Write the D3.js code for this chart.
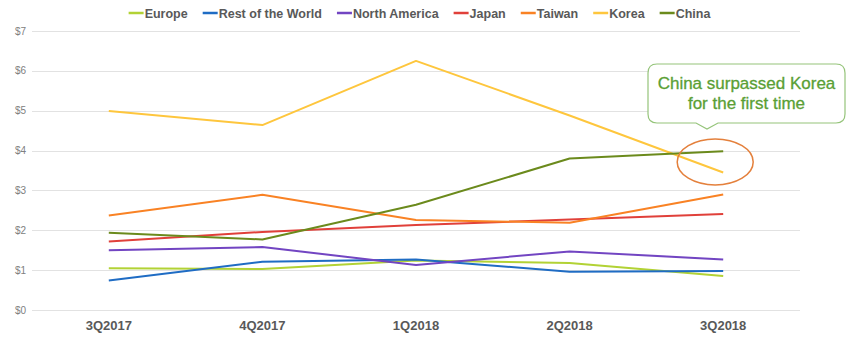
<!DOCTYPE html>
<html>
<head>
<meta charset="utf-8">
<script src="https://cdn.jsdelivr.net/npm/d3@7"></script>
<style>
  html, body { margin: 0; padding: 0; background: #fff; }
  svg { display: block; }
</style>
</head>
<body>
<svg id="chart" width="850" height="345"></svg>
<script>
// ---- Data ----
const categories = ["3Q2017", "4Q2017", "1Q2018", "2Q2018", "3Q2018"];
const seriesNames = ["Europe", "Rest of the World", "North America", "Japan", "Taiwan", "Korea", "China"];
const europe       = [1.05, 1.03, 1.24, 1.18, 0.85];
const restOfWorld  = [0.74, 1.21, 1.27, 0.96, 0.98];
const northAmerica = [1.50, 1.58, 1.13, 1.47, 1.27];
const japan        = [1.72, 1.96, 2.13, 2.27, 2.41];
const taiwan       = [2.37, 2.89, 2.26, 2.19, 2.90];
const korea        = [4.99, 4.64, 6.25, 4.88, 3.45];
const china        = [1.94, 1.77, 2.64, 3.80, 3.98];
const yTicks = [0, 1, 2, 3, 4, 5, 6, 7];
const annotationLines = ["China surpassed Korea", "for the first time"];

const seriesValues = [europe, restOfWorld, northAmerica, japan, taiwan, korea, china];
const colors = ["#b2d235", "#1f6cc4", "#7245c2", "#e0403a", "#f98224", "#fec63d", "#6b8a1c"];

// ---- Layout ----
const svg = d3.select("#chart");
const plotLeft = 32, plotRight = 800, plotTop = 31, plotBottom = 310;

const x = d3.scaleBand().domain(categories).range([plotLeft, plotRight]);
const y = d3.scaleLinear().domain([0, 7]).range([plotBottom, plotTop]);
const cx = d => x(d) + x.bandwidth() / 2;

// gridlines
svg.append("g").selectAll("line").data(yTicks).join("line")
  .attr("x1", plotLeft).attr("x2", plotRight)
  .attr("y1", d => Math.round(y(d)) + 0.5).attr("y2", d => Math.round(y(d)) + 0.5)
  .attr("stroke", "#e2e2e2").attr("stroke-width", 1);

// y labels
svg.append("g").selectAll("text").data(yTicks).join("text")
  .attr("x", 15).attr("y", d => y(d) + 3.5)
  .attr("font-family", "Liberation Sans, Arial, sans-serif")
  .attr("font-size", 10).attr("fill", "#808080")
  .text(d => "$" + d);

// x labels
svg.append("g").selectAll("text").data(categories).join("text")
  .attr("x", d => cx(d)).attr("y", 330)
  .attr("text-anchor", "middle")
  .attr("font-family", "Liberation Sans, Arial, sans-serif")
  .attr("font-weight", "bold")
  .attr("font-size", 13).attr("fill", "#595959")
  .text(d => d);

// lines
const line = d3.line().x((d, i) => cx(categories[i])).y(d => y(d));
svg.append("g").selectAll("path").data(seriesValues).join("path")
  .attr("d", d => line(d))
  .attr("fill", "none")
  .attr("stroke", (d, i) => colors[i])
  .attr("stroke-width", 2)
  .attr("stroke-linejoin", "round");

// legend
const legend = svg.append("g");
const items = legend.selectAll("g").data(seriesNames).join("g");
items.append("line")
  .attr("x1", 0).attr("x2", 15).attr("y1", 0).attr("y2", 0)
  .attr("stroke", (d, i) => colors[i]).attr("stroke-width", 2.5);
items.append("text")
  .attr("x", 16).attr("y", 4.5)
  .attr("font-family", "Liberation Sans, Arial, sans-serif")
  .attr("font-weight", "bold")
  .attr("font-size", 12.5).attr("fill", "#595959")
  .text(d => d);
let pos = 0;
const offsets = [];
items.each(function(d, i) {
  const w = 16 + this.querySelector("text").getComputedTextLength();
  offsets.push(pos);
  pos += w + 15;
});
const totalW = pos - 15;
const startX = 419.5 - totalW / 2;
items.attr("transform", (d, i) => `translate(${startX + offsets[i]},13)`);

// annotation ellipse (around the 3Q2018 China/Korea crossing)
const lastCat = categories[categories.length - 1];
svg.append("ellipse")
  .attr("cx", cx(lastCat) - 8).attr("cy", y((china[4] + korea[4]) / 2))
  .attr("rx", 38).attr("ry", 23)
  .attr("fill", "none").attr("stroke", "#e4803c").attr("stroke-width", 1.5);

// callout
const bx = 648, by = 64, bw = 197, bh = 59, r = 9, tipX = 707, tipY = 129;
const p = d3.path();
p.moveTo(bx + r, by);
p.lineTo(bx + bw - r, by);
p.quadraticCurveTo(bx + bw, by, bx + bw, by + r);
p.lineTo(bx + bw, by + bh - r);
p.quadraticCurveTo(bx + bw, by + bh, bx + bw - r, by + bh);
p.lineTo(tipX + 11, by + bh);
p.lineTo(tipX, tipY);
p.lineTo(tipX - 11, by + bh);
p.lineTo(bx + r, by + bh);
p.quadraticCurveTo(bx, by + bh, bx, by + bh - r);
p.lineTo(bx, by + r);
p.quadraticCurveTo(bx, by, bx + r, by);
p.closePath();
svg.append("path").attr("d", p.toString())
  .attr("fill", "#ffffff").attr("stroke", "#95c47a").attr("stroke-width", 1.2);

svg.append("g").selectAll("text").data(annotationLines).join("text")
  .attr("x", bx + bw / 2).attr("y", (d, i) => 89 + i * 20)
  .attr("text-anchor", "middle")
  .attr("font-family", "Liberation Sans, Arial, sans-serif")
  .attr("font-size", 17).attr("fill", "#5a9f35")
  .attr("stroke", "#5a9f35").attr("stroke-width", 0.3)
  .text(d => d);
</script>
</body>
</html>
